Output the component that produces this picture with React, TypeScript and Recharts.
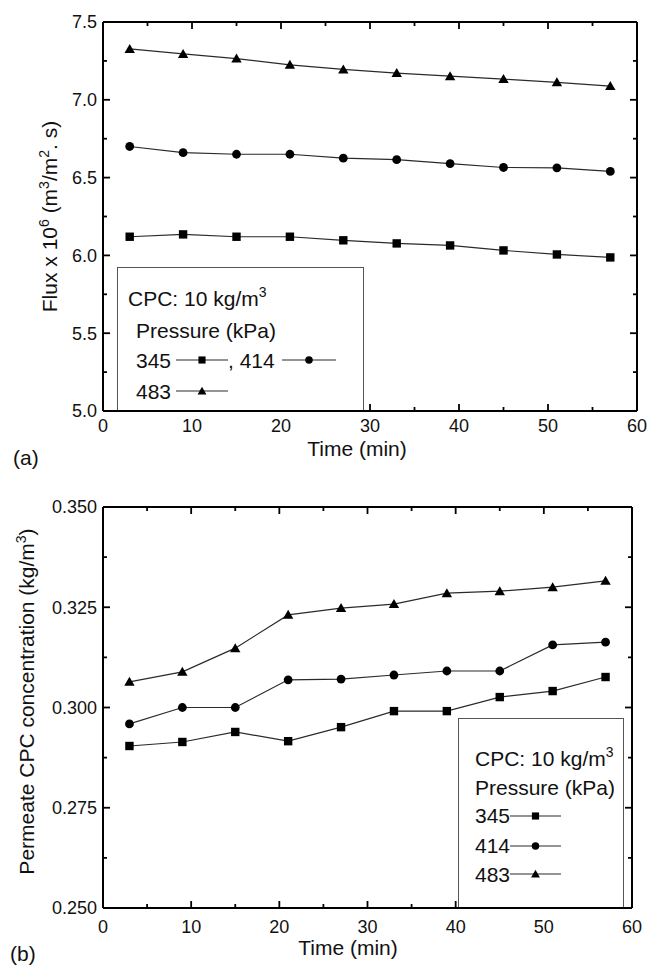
import React from 'react';
import { LineChart, Line, XAxis, YAxis, Legend, Label, ReferenceLine } from 'recharts';

// ---------- data ----------
const times = [3, 9, 15, 21, 27, 33, 39, 45, 51, 57];
const flux345 = [6.12, 6.135, 6.12, 6.12, 6.097, 6.077, 6.064, 6.032, 6.006, 5.987];
const flux414 = [6.70, 6.66, 6.65, 6.65, 6.625, 6.615, 6.59, 6.565, 6.563, 6.54];
const flux483 = [7.327, 7.295, 7.265, 7.225, 7.195, 7.172, 7.152, 7.133, 7.112, 7.088];
const conc345 = [0.2904, 0.2914, 0.2939, 0.2916, 0.2951, 0.2991, 0.2991, 0.3026, 0.3041, 0.3076];
const conc414 = [0.2959, 0.3000, 0.3000, 0.3069, 0.3071, 0.3081, 0.3091, 0.3091, 0.3156, 0.3163];
const conc483 = [0.3064, 0.3089, 0.3148, 0.3231, 0.3248, 0.3258, 0.3285, 0.3290, 0.3300, 0.3316];
const timeMajor = [0, 10, 20, 30, 40, 50, 60];
const timeMinor = [5, 15, 25, 35, 45, 55];
const fluxMajor = [5.0, 5.5, 6.0, 6.5, 7.0, 7.5];
const fluxMinor = [5.25, 5.75, 6.25, 6.75, 7.25];
const concMajor = [0.25, 0.275, 0.3, 0.325, 0.35];
const concMinor = [0.2625, 0.2875, 0.3125, 0.3375];
const pressures = ['345', '414', '483'];

const fluxData = times.map((t, i) => ({ t, p345: flux345[i], p414: flux414[i], p483: flux483[i] }));
const concData = times.map((t, i) => ({ t, p345: conc345[i], p414: conc414[i], p483: conc483[i] }));

const FONT = '"Liberation Sans", Arial, Helvetica, sans-serif';
const LINE = '#2a2a2a';

// ---------- markers ----------
const marker = (shape: string, cx: number, cy: number, s = 1) => {
  if (shape === 'square') return <rect x={cx - 4.2 * s} y={cy - 4.2 * s} width={8.4 * s} height={8.4 * s} fill="#000" />;
  if (shape === 'circle') return <circle cx={cx} cy={cy} r={4.4 * s} fill="#000" />;
  return (
    <polygon
      points={`${cx},${cy - 5 * s} ${cx + 5.2 * s},${cy + 4 * s} ${cx - 5.2 * s},${cy + 4 * s}`}
      fill="#000"
    />
  );
};
const shapes = ['square', 'circle', 'triangle'];

const dotFor = (shape: string) => (p: any) => (
  <g key={`${shape}-${p.index}`}>{marker(shape, p.cx, p.cy)}</g>
);

// ---------- tick labels ----------
const leftLabel = (decimals: number) => (props: any) => {
  const x = Number(props.x);
  const y = Number(props.y);
  return (
    <text x={x - 6} y={y + 6.3} textAnchor="end" fontSize={18} fontFamily={FONT} fill="#111" stroke="none">
      {Number(props.payload.value).toFixed(decimals)}
    </text>
  );
};
const bottomLabel = (off: number) => (props: any) => {
  const x = Number(props.x);
  const y = Number(props.y);
  return (
    <text x={x} y={y + off} textAnchor="middle" fontSize={18} fontFamily={FONT} fill="#111" stroke="none">
      {String(props.payload.value)}
    </text>
  );
};

const axisLine = { stroke: '#000', strokeWidth: 2 };

// inward tick marks on all four sides, drawn through the chart's own scales
const tickMarks = (
  yDomain: [number, number], yMajor: number[], yMinor: number[],
  plotW: number, plotH: number,
) => {
  const [y0, y1] = yDomain;
  const ux = 60 / plotW; // data units per pixel (x)
  const uy = (y1 - y0) / plotH; // data units per pixel (y)
  const out: any[] = [];
  const tk = { stroke: '#000', strokeWidth: 1.8, ifOverflow: 'visible' as const, xAxisId: 'b', yAxisId: 'l' };
  const addX = (x: number, len: number, k: string) => {
    out.push(<ReferenceLine key={`bx${k}`} {...tk} segment={[{ x, y: y0 }, { x, y: y0 + len * uy }]} />);
    out.push(<ReferenceLine key={`tx${k}`} {...tk} segment={[{ x, y: y1 }, { x, y: y1 - len * uy }]} />);
  };
  const addY = (y: number, len: number, k: string) => {
    out.push(<ReferenceLine key={`ly${k}`} {...tk} segment={[{ x: 0, y }, { x: len * ux, y }]} />);
    out.push(<ReferenceLine key={`ry${k}`} {...tk} segment={[{ x: 60, y }, { x: 60 - len * ux, y }]} />);
  };
  timeMajor.forEach((x) => addX(x, 7, `M${x}`));
  timeMinor.forEach((x) => addX(x, 4, `m${x}`));
  yMajor.forEach((y) => addY(y, 7, `M${y}`));
  yMinor.forEach((y) => addY(y, 4, `m${y}`));
  // top and right frame lines
  out.push(<ReferenceLine key="frameTop" xAxisId="b" yAxisId="l" y={y1} stroke="#000" strokeWidth={2} ifOverflow="visible" />);
  out.push(<ReferenceLine key="frameRight" xAxisId="b" yAxisId="l" x={60} stroke="#000" strokeWidth={2} ifOverflow="visible" />);
  return out;
};

// ---------- legend ----------
const Glyph = ({ shape, w = 52 }: { shape: string; w?: number }) => (
  <svg width={w} height={14} style={{ display: 'block' }}>
    <line x1={0} y1={7} x2={w} y2={7} stroke={LINE} strokeWidth={1.2} />
    {marker(shape, w / 2, 7, 0.85)}
  </svg>
);

const Sup = ({ children }: any) => (
  <span style={{ fontSize: 14, position: 'relative', top: -9 }}>{children}</span>
);

const txt = (left: number, top: number, content: any) => (
  <div style={{ position: 'absolute', left, top, fontSize: 21, lineHeight: '21px', whiteSpace: 'nowrap', color: '#111' }}>
    {content}
  </div>
);
const glyphAt = (left: number, top: number, shape: string, w = 52) => (
  <div style={{ position: 'absolute', left, top }}>
    <Glyph shape={shape} w={w} />
  </div>
);

const LegendTop = () => (
  <div
    style={{
      position: 'relative', width: 247, height: 143, boxSizing: 'border-box', background: '#fff',
      border: '1.2px solid #555', borderBottom: 'none', fontFamily: FONT,
    }}
  >
    {txt(10, 20, <>CPC: 10 kg/m<Sup>3</Sup></>)}
    {txt(18, 52, 'Pressure (kPa)')}
    {txt(18, 82, pressures[0])}
    {glyphAt(58, 85, shapes[0])}
    {txt(110, 82, `, ${pressures[1]}`)}
    {glyphAt(164, 85, shapes[1], 54)}
    {txt(18, 113, pressures[2])}
    {glyphAt(58, 116, shapes[2])}
  </div>
);

const LegendBottom = () => (
  <div
    style={{
      position: 'relative', width: 166, height: 189, boxSizing: 'border-box', background: '#fff',
      border: '1.2px solid #555', borderBottom: 'none', fontFamily: FONT,
    }}
  >
    {txt(16, 29, <>CPC: 10 kg/m<Sup>3</Sup></>)}
    {txt(16, 58, 'Pressure (kPa)')}
    {txt(16, 86, pressures[0])}
    {glyphAt(51, 90, shapes[0], 51)}
    {txt(16, 116, pressures[1])}
    {glyphAt(51, 120, shapes[1], 51)}
    {txt(16, 145, pressures[2])}
    {glyphAt(51, 148, shapes[2], 51)}
  </div>
);

// ---------- titles ----------
const FluxTitle = (p: any) => {
  const vb = p.viewBox || { x: 0, y: 22, width: 103, height: 389 };
  const cx = vb.x + 57;
  const cy = vb.y + vb.height / 2;
  return (
    <text transform={`translate(${cx},${cy}) rotate(-90)`} textAnchor="middle" fontSize={21} fontFamily={FONT} fill="#111">
      Flux x 10<tspan dy={-8} fontSize={14}>6</tspan>
      <tspan dy={8}> (m</tspan>
      <tspan dy={-8} fontSize={14}>3</tspan>
      <tspan dy={8}>/m</tspan>
      <tspan dy={-8} fontSize={14}>2</tspan>
      <tspan dy={8}>. s)</tspan>
    </text>
  );
};

const ConcTitle = (p: any) => {
  const vb = p.viewBox || { x: 0, y: 27, width: 103, height: 401 };
  const cx = vb.x + 34;
  const cy = vb.y + vb.height / 2 - 6;
  return (
    <text transform={`translate(${cx},${cy}) rotate(-90)`} textAnchor="middle" fontSize={21} fontFamily={FONT} fill="#111">
      Permeate CPC concentration (kg/m<tspan dy={-8} fontSize={14}>3</tspan>
      <tspan dy={8}>)</tspan>
    </text>
  );
};

const TimeTitle = (dx: number, dy: number, tag: string, tagDx: number, tagDy: number) => (p: any) => {
  const vb = p.viewBox || { x: 103, y: 411, width: 534, height: 40 };
  return (
    <g>
      <text x={vb.x + vb.width / 2 + dx} y={vb.y + dy} textAnchor="middle" fontSize={21} fontFamily={FONT} fill="#111">
        Time (min)
      </text>
      <text x={vb.x + tagDx} y={vb.y + tagDy} fontSize={21} fontFamily={FONT} fill="#111">
        {tag}
      </text>
    </g>
  );
};

const lineProps = { type: 'linear' as const, stroke: LINE, strokeWidth: 1.2, isAnimationActive: false, activeDot: false as any };

export default function App() {
  return (
    <div style={{ position: 'absolute', left: 0, top: 0, width: 647, height: 967, background: '#fff', fontFamily: FONT }}>
      <div style={{ position: 'absolute', left: 0, top: 0 }}>
        <LineChart width={647} height={480} data={fluxData} margin={{ top: 22, right: 10, bottom: 29, left: 0 }}>
          <XAxis xAxisId="b" dataKey="t" type="number" domain={[0, 60]} ticks={timeMajor} interval={0}
            height={40} tickSize={0} tickMargin={0} tickLine={false} axisLine={axisLine}
            tick={bottomLabel(21)}>
            <Label content={TimeTitle(-13, 45, '(a)', -90, 54)} />
          </XAxis>
          <YAxis yAxisId="l" type="number" domain={[5, 7.5]} ticks={fluxMajor} interval={0}
            width={103} tickSize={0} tickMargin={0} tickLine={false} axisLine={axisLine}
            tick={leftLabel(1)}>
            <Label content={FluxTitle} />
          </YAxis>
          {tickMarks([5, 7.5], fluxMajor, fluxMinor, 534, 389)}
          <Line xAxisId="b" yAxisId="l" dataKey="p345" {...lineProps} dot={dotFor('square')} />
          <Line xAxisId="b" yAxisId="l" dataKey="p414" {...lineProps} dot={dotFor('circle')} />
          <Line xAxisId="b" yAxisId="l" dataKey="p483" {...lineProps} dot={dotFor('triangle')} />
          <Legend
            layout="horizontal" verticalAlign="middle" align="center"
            content={() => <LegendTop />}
            wrapperStyle={{ left: 117, top: 267, width: 247, height: 143 }}
          />
        </LineChart>
      </div>
      <div style={{ position: 'absolute', left: 0, top: 480 }}>
        <LineChart width={647} height={487} data={concData} margin={{ top: 27, right: 15, bottom: 19, left: 0 }}>
          <XAxis xAxisId="b" dataKey="t" type="number" domain={[0, 60]} ticks={timeMajor} interval={0}
            height={40} tickSize={0} tickMargin={0} tickLine={false} axisLine={axisLine}
            tick={bottomLabel(25)}>
            <Label content={TimeTitle(-19.5, 47, '(b)', -93, 53)} />
          </XAxis>
          <YAxis yAxisId="l" type="number" domain={[0.25, 0.35]} ticks={concMajor} interval={0}
            width={103} tickSize={0} tickMargin={0} tickLine={false} axisLine={axisLine}
            tick={leftLabel(3)}>
            <Label content={ConcTitle} />
          </YAxis>
          {tickMarks([0.25, 0.35], concMajor, concMinor, 529, 401)}
          <Line xAxisId="b" yAxisId="l" dataKey="p345" {...lineProps} dot={dotFor('square')} />
          <Line xAxisId="b" yAxisId="l" dataKey="p414" {...lineProps} dot={dotFor('circle')} />
          <Line xAxisId="b" yAxisId="l" dataKey="p483" {...lineProps} dot={dotFor('triangle')} />
          <Legend
            layout="horizontal" verticalAlign="middle" align="center"
            content={() => <LegendBottom />}
            wrapperStyle={{ left: 458, top: 238, width: 166, height: 189 }}
          />
        </LineChart>
      </div>
    </div>
  );
}
